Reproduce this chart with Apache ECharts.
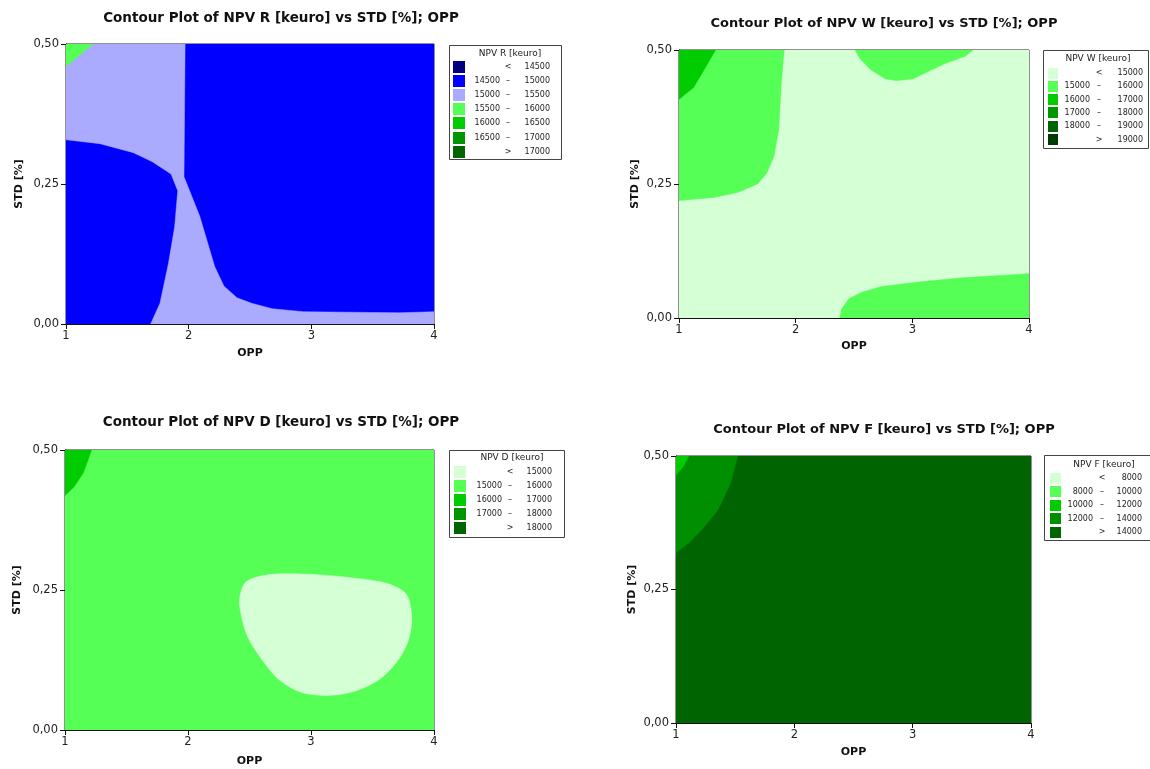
<!DOCTYPE html>
<html><head><meta charset="utf-8">
<script src="https://cdn.jsdelivr.net/npm/echarts@6/dist/echarts.min.js"></script>
<style>html,body{margin:0;padding:0;background:#fff}#c{width:1150px;height:769px}</style>
</head><body><div id="c"></div>
<script>
// ---------- tick labels ----------
const xTickLabels = ['1', '2', '3', '4'];
const yTickLabels = ['0,00', '0,25', '0,50'];
const plotTitles = [
  'Contour Plot of NPV R [keuro] vs STD [%]; OPP',
  'Contour Plot of NPV W [keuro] vs STD [%]; OPP',
  'Contour Plot of NPV D [keuro] vs STD [%]; OPP',
  'Contour Plot of NPV F [keuro] vs STD [%]; OPP'
];
const legendTitles = ['NPV R [keuro]', 'NPV W [keuro]', 'NPV D [keuro]', 'NPV F [keuro]'];

// ---------- contour levels & band colours ----------
const levelsR = [14500, 15000, 15500, 16000, 16500, 17000];
const colorsR = ['#000080', '#0000FF', '#AAAAFF', '#55FF55', '#00CC00', '#009600', '#006400'];
const levelsW = [15000, 16000, 17000, 18000, 19000];
const colorsW = ['#D5FFD5', '#55FF55', '#00CC00', '#009600', '#006400', '#003C00'];
const levelsD = [15000, 16000, 17000, 18000];
const colorsD = ['#D5FFD5', '#55FF55', '#00CC00', '#009600', '#006400'];
const levelsF = [8000, 10000, 12000, 14000];
const colorsF = ['#D5FFD5', '#55FF55', '#00CC00', '#008F00', '#006400'];

// ---------- contour regions: [OPP, STD] boundary points ----------
const fullRect = [[1, 0], [4, 0], [4, 0.5], [1, 0.5]];
// NPV R
const rBand15000 = [[1, 0.5], [1.971, 0.5], [1.962, 0.263], [2.091, 0.192], [2.212, 0.1025], [2.287, 0.068],
  [2.393, 0.047], [2.514, 0.037], [2.679, 0.0274], [2.936, 0.022], [3.72, 0.020], [4, 0.022], [4, 0],
  [1.69, 0], [1.766, 0.037], [1.835, 0.108], [1.886, 0.174], [1.911, 0.238], [1.856, 0.268], [1.70, 0.290],
  [1.549, 0.306], [1.277, 0.322], [1, 0.329]];
const rBand15500 = [[1, 0.5], [1.22, 0.5], [1, 0.46]];
// NPV W
const wBandLeft = [[1, 0.5], [1.902, 0.5], [1.877, 0.439], [1.855, 0.352], [1.814, 0.302], [1.752, 0.270],
  [1.673, 0.250], [1.501, 0.234], [1.297, 0.225], [1, 0.219]];
const wBandCorner = [[1, 0.5], [1.313, 0.5], [1.235, 0.4706], [1.125, 0.43], [1, 0.408]];
const wBandTop = [[2.509, 0.5], [2.55, 0.484], [2.644, 0.463], [2.769, 0.446], [2.863, 0.443], [3.004, 0.446],
  [3.27, 0.474], [3.458, 0.489], [3.52, 0.5]];
const wBandBottom = [[2.378, 0], [2.394, 0.017], [2.456, 0.036], [2.566, 0.048], [2.738, 0.059], [3.051, 0.067],
  [3.427, 0.075], [4, 0.0826], [4, 0]];
// NPV D
const dBandCorner = [[1, 0.5], [1.216, 0.5], [1.15, 0.46], [1.075, 0.4345], [1, 0.4186]];
const dBandLow = [[2.467, 0.2636], [2.572, 0.274], [2.75, 0.279], [3.111, 0.2765], [3.56, 0.265], [3.71, 0.2535],
  [3.785, 0.239], [3.82, 0.1975], [3.785, 0.156], [3.695, 0.121], [3.56, 0.091], [3.38, 0.071], [3.17, 0.062],
  [2.93, 0.0666], [2.75, 0.088], [2.617, 0.121], [2.482, 0.168], [2.42, 0.221], [2.428, 0.245]];
// NPV F
const fBand12000 = [[1, 0.5], [1.523, 0.5], [1.4615, 0.449], [1.354, 0.399], [1.231, 0.365], [1.108, 0.337], [1, 0.3186]];
const fBand10000 = [[1, 0.5], [1.108, 0.5], [1.0615, 0.48], [1, 0.4646]];

// ---------- layout ----------
const grids = [
  {left: 66, top: 44, width: 368, height: 280},
  {left: 679, top: 50, width: 350, height: 268},
  {left: 65, top: 450, width: 369, height: 280},
  {left: 676, top: 456, width: 355, height: 267}
];
const titlePos = [[281, 11, 13.5], [884, 17, 13], [281, 415, 13.5], [884, 423, 13]];
const xNameGap = [24, 23, 26, 24];
const yNameGap = [41, 38, 42, 38];

const FONT = 'DejaVu Sans';

const xAxes = grids.map((g, i) => ({
  gridIndex: i, type: 'value', min: 1, max: 4, interval: 1,
  name: 'OPP', nameLocation: 'middle', nameGap: xNameGap[i],
  nameTextStyle: {fontFamily: FONT, fontWeight: 'bold', fontSize: 11, color: '#111'},
  axisLine: {show: true, lineStyle: {color: '#111', width: 1}},
  axisTick: {show: true, length: 5, lineStyle: {color: '#111'}},
  axisLabel: {fontFamily: FONT, fontSize: 11.5, color: '#222', margin: 6,
    formatter: v => xTickLabels[Math.round(v - 1)]},
  splitLine: {show: false}
}));
const yAxes = grids.map((g, i) => ({
  gridIndex: i, type: 'value', min: 0, max: 0.5, interval: 0.25,
  name: 'STD [%]', nameLocation: 'middle', nameGap: yNameGap[i], nameRotate: 90,
  nameTextStyle: {fontFamily: FONT, fontWeight: 'bold', fontSize: 11, color: '#111'},
  axisLine: {show: true, lineStyle: {color: '#111', width: 1}},
  axisTick: {show: true, length: 5, lineStyle: {color: '#111'}},
  axisLabel: {fontFamily: FONT, fontSize: 11.5, color: '#222', margin: 7,
    formatter: v => yTickLabels[Math.round(v / 0.25)]},
  splitLine: {show: false}
}));

function region(idx, pts, color, smooth) {
  return {
    type: 'custom', xAxisIndex: idx, yAxisIndex: idx, clip: true, silent: true,
    data: pts,
    renderItem: (params, api) => {
      if (params.dataIndex !== 0) return null;
      return {type: 'polygon', shape: {points: pts.map(p => api.coord(p)), smooth: smooth || 0},
        style: {fill: color, stroke: color, lineWidth: 0.5}};
    }
  };
}

const series = [
  region(0, fullRect, colorsR[1]),
  region(0, rBand15000, colorsR[2]),
  region(0, rBand15500, colorsR[3]),
  region(1, fullRect, colorsW[0]),
  region(1, wBandLeft, colorsW[1]),
  region(1, wBandTop, colorsW[1]),
  region(1, wBandBottom, colorsW[1]),
  region(1, wBandCorner, colorsW[2]),
  region(2, fullRect, colorsD[1]),
  region(2, dBandLow, colorsD[0], 0.3),
  region(2, dBandCorner, colorsD[2]),
  region(3, fullRect, colorsF[4]),
  region(3, fBand12000, colorsF[3]),
  region(3, fBand10000, colorsF[2])
];

// ---------- legends (built from level arrays) ----------
const legendLayouts = [
  {x: 449, y: 45, w: 112, h: 114, tx: 510, ty: 54, r0: 67, step: 14.1, sx: 453, sw: 12, sh: 12, n1: 500, dx: 508, n2: 550},
  {x: 1043, y: 50, w: 105, h: 98, tx: 1098, ty: 59, r0: 73, step: 13.3, sx: 1048, sw: 10, sh: 11, n1: 1090, dx: 1099, n2: 1143},
  {x: 449, y: 450, w: 115, h: 87, tx: 512, ty: 458, r0: 472, step: 14, sx: 454, sw: 12, sh: 12, n1: 502, dx: 510, n2: 552},
  {x: 1044, y: 455, w: 110, h: 85, tx: 1104, ty: 465, r0: 478, step: 13.5, sx: 1050, sw: 11, sh: 11, n1: 1093, dx: 1102, n2: 1142}
];
const legendLevels = [levelsR, levelsW, levelsD, levelsF];
const legendColors = [colorsR, colorsW, colorsD, colorsF];

const graphic = [];
legendLayouts.forEach((L, i) => {
  const lv = legendLevels[i], cols = legendColors[i];
  graphic.push({type: 'rect', shape: {x: L.x + 0.5, y: L.y + 0.5, width: L.w, height: L.h},
    style: {fill: '#fff', stroke: '#444', lineWidth: 1}, z: 10});
  graphic.push({type: 'text', style: {text: legendTitles[i], x: L.tx, y: L.ty, align: 'center', verticalAlign: 'middle',
    fontFamily: FONT, fontSize: 9, fill: '#222'}, z: 11});
  for (let k = 0; k <= lv.length; k++) {
    const cy = L.r0 + k * L.step;
    graphic.push({type: 'rect', shape: {x: L.sx, y: Math.round(cy - L.sh / 2), width: L.sw, height: L.sh},
      style: {fill: cols[k]}, z: 11});
    let left = '', mid = '\u2013', right = '';
    if (k === 0) { mid = '<'; right = String(lv[0]); }
    else if (k === lv.length) { mid = '>'; right = String(lv[lv.length - 1]); }
    else { left = String(lv[k - 1]); right = String(lv[k]); }
    const ts = {fontFamily: FONT, fontSize: 8, fill: '#222', verticalAlign: 'middle'};
    if (left) graphic.push({type: 'text', style: Object.assign({text: left, x: L.n1, y: cy, align: 'right'}, ts), z: 11});
    graphic.push({type: 'text', style: Object.assign({text: mid, x: L.dx, y: cy, align: 'center'}, ts), z: 11});
    graphic.push({type: 'text', style: Object.assign({text: right, x: L.n2, y: cy, align: 'right'}, ts), z: 11});
  }
});

const chart = echarts.init(document.getElementById('c'), null, {renderer: 'canvas'});
chart.setOption({
  animation: false,
  backgroundColor: '#fff',
  title: plotTitles.map((t, i) => ({
    text: t, left: titlePos[i][0], top: titlePos[i][1], textAlign: 'center', padding: 0,
    textStyle: {fontFamily: FONT, fontWeight: 'bold', fontSize: titlePos[i][2], color: '#111'}
  })),
  grid: grids.map(g => Object.assign({show: true, borderColor: '#222', borderWidth: 1, backgroundColor: 'transparent'}, g)),
  xAxis: xAxes,
  yAxis: yAxes,
  series: series,
  graphic: graphic
});
</script></body></html>
